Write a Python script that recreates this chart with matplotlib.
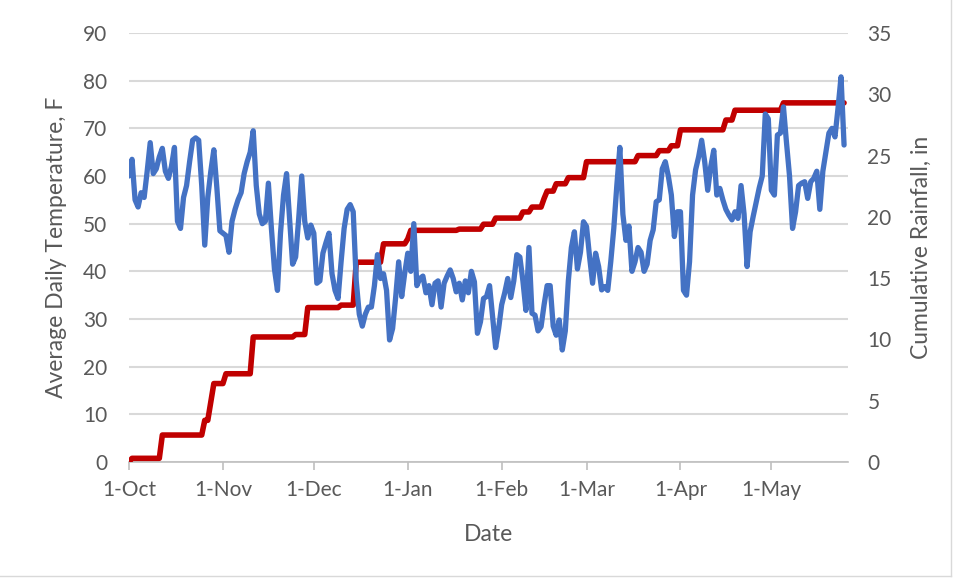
import matplotlib
matplotlib.use("Agg")
import matplotlib.pyplot as plt
import numpy as np
import pandas as pd

# ---- data ----
start_date = "2018-10-01"
avg_temp_f = [
    60, 63.5, 55, 53.5, 56.5, 55.5, 61, 67, 60.5, 61.5,
    64, 65.8, 61, 59.5, 62, 66, 50.5, 49, 55.5, 58,
    63, 67.5, 68, 67.5, 58, 45.5, 55.5, 61, 65.5, 57.5,
    48.5, 48, 47.5, 44, 50.5, 53, 55, 56.5, 60.5, 63,
    65, 69.5, 58, 52, 50, 50.5, 58.5, 49, 40.5, 36,
    48, 56, 60.5, 51, 41.5, 43, 51, 60, 50.5, 47,
    49.7, 48, 37.5, 38, 43.8, 46, 48, 39.5, 36, 34.3,
    42, 49, 53, 54, 52.5, 38, 31, 28.5, 31, 32.5,
    32.5, 37, 43.5, 38.5, 39.5, 36, 25.6, 28, 34.5, 42,
    34.7, 39.6, 43.8, 40, 50, 37, 38.5, 39, 35.5, 37,
    33, 37.5, 38, 32.5, 37.5, 39, 40.3, 38.5, 35.7, 37.5,
    34, 38, 35.5, 40, 37.8, 27, 29.4, 34.3, 34.7, 37,
    30.5, 24, 28, 33, 35.5, 38.5, 34.5, 38, 43.5, 43,
    38, 31.8, 45, 31.2, 30.8, 27.5, 28.4, 33, 37, 37,
    28.5, 26.6, 29.8, 23.5, 27.5, 38, 45, 48.3, 40.5, 44,
    50.4, 49.4, 43.1, 37.5, 43.8, 41, 36.1, 36.8, 36, 42,
    49, 58, 66, 52, 46.5, 49.5, 40, 42, 45, 44,
    40, 41.5, 46.5, 48.7, 54.6, 55, 61.5, 63, 60, 56,
    47.3, 52.5, 52.5, 36, 35, 42, 56, 61.3, 64, 67.5,
    63, 57, 62, 65.4, 56, 57.4, 55, 53, 51.8, 50.8,
    52.5, 51.1, 58, 52, 41, 48.3, 51.5, 54.5, 57.5, 60,
    73, 72, 57, 56, 68.6, 69, 74.5, 67, 60, 49,
    52.5, 58, 58.5, 58.8, 55.3, 58.8, 59.5, 61, 53, 61,
    65, 69, 70, 68.2, 74.2, 80.8, 66.5,
]
# days (index from start) with rainfall, and daily rainfall (in)
rain_days = [1, 11, 25, 27, 28, 32, 41, 55, 59, 70, 75, 84, 92, 93, 109,
             117, 121, 130, 133, 137, 138, 141, 145, 151, 168, 175, 179,
             182, 197, 200, 216]
rain_in = [0.3, 1.9, 1.2, 1.5, 1.5, 0.8, 3.0, 0.2, 2.2, 0.2, 3.5, 1.5, 0.4,
           0.7, 0.1, 0.4, 0.5, 0.5, 0.4, 0.7, 0.6, 0.6, 0.5, 1.3, 0.5, 0.4,
           0.4, 1.3, 0.8, 0.8, 0.6]
left_ticks = [0, 10, 20, 30, 40, 50, 60, 70, 80, 90]
right_ticks = [0, 5, 10, 15, 20, 25, 30, 35]

# ---- derived ----
n = len(avg_temp_f)
dates = pd.date_range(start_date, periods=n, freq="D")
day_idx = np.asarray((dates - dates[0]).days, dtype=float)
daily_rain = np.zeros(n)
for d, r in zip(rain_days, rain_in):
    daily_rain[d] += r
cum_rain = np.cumsum(daily_rain)
month_starts = [i for i, d in enumerate(dates) if d.day == 1]
month_labels = [f"{dates[i].day}-{dates[i].strftime('%b')}" for i in month_starts]

# ---- style ----
plt.rcParams["font.family"] = ["Lato", "DejaVu Sans"]
text_col = "#595959"
grid_col = "#d9d9d9"

fig = plt.figure(figsize=(9.54, 5.78), dpi=100)
ax = fig.add_axes([129 / 954, 1 - 462 / 578, (848 - 129) / 954, (462 - 33) / 578])
ax2 = ax.twinx()

ax.set_xlim(0, 237.3)
ax.set_ylim(0, 90)
ax2.set_ylim(0, 35)

ax.set_yticks(left_ticks)
ax2.set_yticks(right_ticks)
ax.set_xticks(month_starts)
ax.set_xticklabels(month_labels)

ax.yaxis.grid(True, color=grid_col, linewidth=1.5)
ax.set_axisbelow(True)

for a in (ax, ax2):
    for s in ("top", "left", "right", "bottom"):
        a.spines[s].set_visible(False)
ax.spines["bottom"].set_visible(True)
ax.spines["bottom"].set_color("#bfbfbf")
ax.spines["bottom"].set_linewidth(1.2)

ax.tick_params(axis="y", length=0, labelsize=15, labelcolor=text_col, pad=15.5)
ax2.tick_params(axis="y", length=0, labelsize=15, labelcolor=text_col, pad=14)
ax.tick_params(axis="x", length=6, width=1.2, color="#bfbfbf", direction="out",
               labelsize=15, labelcolor=text_col, pad=7)

ax.set_xlabel("Date", fontsize=16.5, color=text_col, labelpad=17)
ax.set_ylabel("Average Daily Temperature, F", fontsize=16.5, color=text_col, labelpad=12)
ax2.set_ylabel("Cumulative Rainfall, in", fontsize=16.5, color=text_col, labelpad=14)

ax2.plot(day_idx, cum_rain, color="#c00000", linewidth=4.0,
         solid_joinstyle="round", solid_capstyle="round", zorder=2)
ax2.plot(day_idx, avg_temp_f, color="#4472c4", linewidth=3.8,
         solid_joinstyle="round", solid_capstyle="round", zorder=3,
         transform=ax.transData)

# chart-area frame (right & bottom visible in reference)
fig.add_artist(plt.Line2D([951 / 954, 951 / 954], [1 - 576 / 578, 1], color="#d9d9d9",
                          linewidth=1, transform=fig.transFigure))
fig.add_artist(plt.Line2D([0, 951 / 954], [1 - 576 / 578, 1 - 576 / 578], color="#d9d9d9",
                          linewidth=1, transform=fig.transFigure))

fig.savefig("out.png", dpi=100)
